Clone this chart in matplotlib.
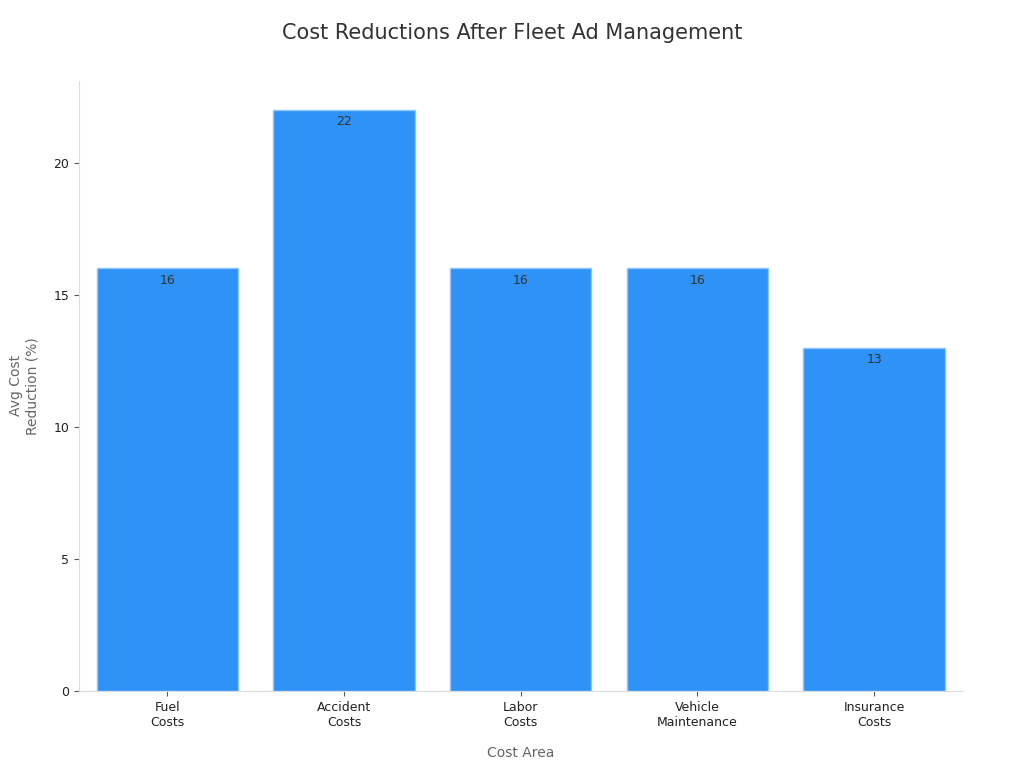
import matplotlib
matplotlib.use("Agg")
import matplotlib.pyplot as plt

categories = ["Fuel\nCosts", "Accident\nCosts", "Labor\nCosts", "Vehicle\nMaintenance", "Insurance\nCosts"]
values = [16, 22, 16, 16, 13]

fig, ax = plt.subplots(figsize=(10.24, 7.68), dpi=100)
fig.subplots_adjust(left=0.077, right=0.94, top=0.895, bottom=0.1)

bars = ax.bar(range(len(values)), values, width=0.8, color="#2f92f7", edgecolor="#8cc4fb", linewidth=1)
for i, v in enumerate(values):
    ax.text(i, v - 0.2, str(v), ha="center", va="top", fontsize=9, color="#333333")

ax.set_xticks(range(len(values)))
ax.set_xticklabels(categories, fontsize=9, color="#222222")
ax.set_yticks([0, 5, 10, 15, 20])
ax.tick_params(axis="y", labelsize=9, colors="#222222")
ax.tick_params(axis="both", color="#555555")
ax.set_xlim(-0.5, 4.5)
ax.set_ylim(0, 23.1)
ax.set_xlabel("Cost Area", fontsize=10, color="#666666", labelpad=12)
ax.set_ylabel("Avg Cost\nReduction (%)", fontsize=10, color="#666666", labelpad=10)
for s in ("top", "right"):
    ax.spines[s].set_visible(False)
for s in ("left", "bottom"):
    ax.spines[s].set_color("#dddddd")

fig.suptitle("Cost Reductions After Fleet Ad Management", fontsize=15, color="#333333", x=0.5, y=0.97)
fig.savefig("out.png", facecolor="white")
